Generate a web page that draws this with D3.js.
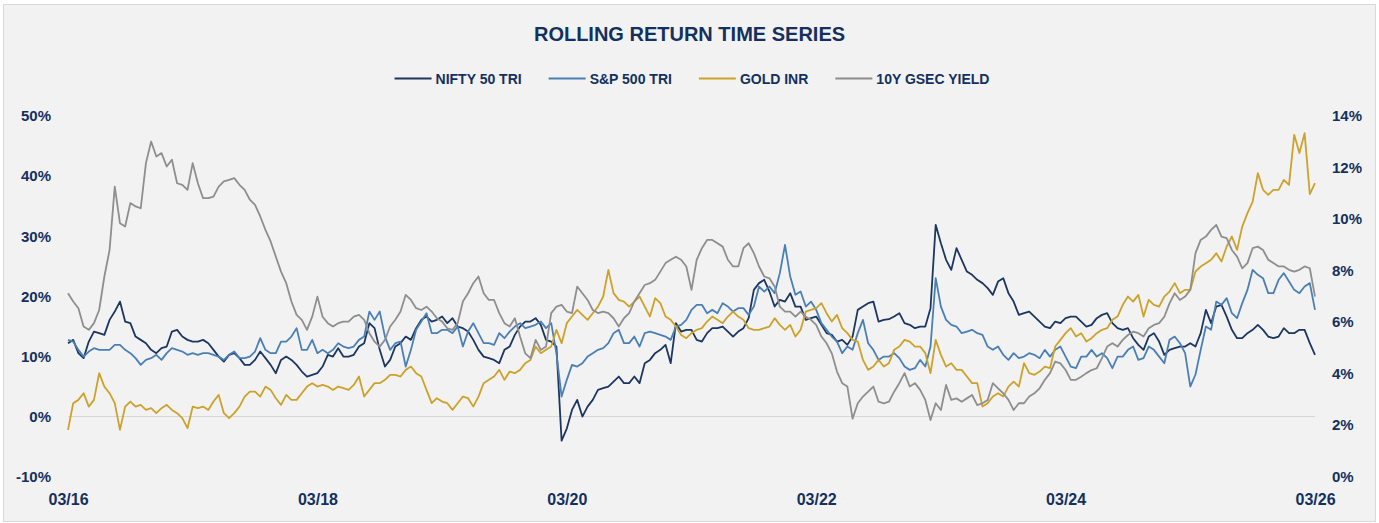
<!DOCTYPE html>
<html>
<head>
<meta charset="utf-8">
<script src="https://cdn.jsdelivr.net/npm/d3@7"></script>
<style>
	body { margin: 0; background: #ffffff; }
	svg text { font-family: "Liberation Sans", Arial, sans-serif; font-weight: bold; fill: #14305f; }
</style>
</head>
<body>
<svg id="chart" width="1379" height="523"></svg>
<script>
/* half-monthly samples, 03/16 .. 03/26 (241 points) */
const niftyTri = [
	12.21, 12.76, 10.55, 9.72, 12.48, 14.14, 13.88, 13.59, 16.09, 17.47, 19.13, 15.81, 15.54, 13.31, 12.76, 12.21, 11.10, 10.55, 11.38, 11.65, 14.14, 14.43, 13.31, 12.76, 12.48, 12.48, 12.76,
	12.21, 11.10, 9.98, 9.15, 10.27, 10.55, 9.72, 8.60, 8.60, 9.43, 10.82, 9.72, 8.60, 7.22, 9.43, 9.98, 9.43, 8.60, 7.49, 6.66, 6.94, 7.22, 8.32, 10.27, 9.98, 11.38, 9.98,
	9.98, 10.27, 11.65, 12.21, 15.54, 14.71, 11.10, 8.32, 9.43, 11.65, 12.21, 13.31, 12.76, 14.71, 16.09, 16.64, 15.81, 16.09, 16.64, 15.54, 16.37, 14.98, 14.71, 14.14, 12.76, 11.10, 9.98,
	9.72, 9.43, 8.88, 11.10, 11.65, 13.59, 14.98, 15.81, 15.81, 16.37, 15.26, 12.76, 12.48, 11.65, -4.00, -2.00, 1.11, 2.78, 0.00, 1.66, 2.78, 4.44, 4.73, 4.99, 5.82, 6.66, 5.56,
	5.56, 6.66, 5.56, 8.88, 9.43, 10.55, 11.10, 11.93, 8.88, 15.54, 14.14, 14.43, 14.43, 12.76, 12.48, 13.88, 14.71, 14.71, 14.98, 14.14, 13.31, 14.14, 14.71, 16.37, 21.08, 22.20, 22.75,
	20.80, 18.30, 19.42, 19.13, 20.53, 18.30, 18.30, 16.09, 16.37, 16.64, 15.26, 13.88, 13.59, 12.48, 12.76, 11.93, 13.31, 17.75, 18.30, 18.87, 19.13, 15.81, 16.09, 16.20, 16.64, 17.20, 15.54,
	15.26, 14.71, 14.98, 14.98, 18.04, 31.90, 28.85, 26.07, 24.41, 28.02, 26.07, 24.13, 23.58, 22.75, 22.20, 21.36, 20.25, 22.46, 23.03, 20.53, 19.13, 16.92, 17.20, 17.47, 16.64, 15.81, 14.98,
	14.71, 15.81, 15.54, 16.37, 16.64, 16.64, 15.81, 14.98, 15.26, 16.37, 16.92, 17.20, 15.54, 14.71, 14.43, 14.71, 13.04, 11.93, 11.10, 13.31, 13.88, 12.48, 10.27, 11.10, 11.38, 11.65, 11.65,
	12.21, 11.65, 13.88, 17.75, 15.54, 18.30, 18.59, 16.64, 14.43, 13.04, 13.04, 13.88, 14.43, 15.26, 14.43, 13.31, 13.04, 13.31, 14.71, 13.88, 13.88, 14.43, 14.43, 12.21, 10.27
];

const sp500Tri = [
	12.76, 12.48, 11.10, 9.98, 10.82, 11.38, 11.10, 11.10, 11.10, 11.93, 11.93, 11.10, 10.55, 9.72, 8.60, 9.43, 9.72, 10.27, 9.43, 10.55, 11.38, 11.10, 10.82, 10.27, 10.55, 10.27, 10.55,
	10.55, 10.27, 9.98, 9.43, 10.27, 10.82, 9.72, 9.72, 9.98, 10.82, 13.04, 11.10, 10.55, 10.55, 12.48, 12.48, 13.31, 14.71, 11.10, 11.10, 12.76, 10.55, 11.10, 10.55, 11.10, 12.21, 11.65,
	11.38, 11.65, 12.76, 13.31, 17.47, 16.09, 17.47, 13.31, 11.10, 12.21, 12.48, 8.32, 11.10, 14.43, 15.81, 17.20, 13.88, 13.88, 14.43, 14.43, 13.88, 14.98, 11.65, 14.14, 15.54, 13.88, 12.21,
	12.21, 11.93, 13.88, 13.04, 14.14, 14.98, 15.54, 14.71, 14.98, 15.26, 15.81, 14.71, 15.54, 10.55, 3.33, 6.11, 8.60, 8.32, 8.88, 9.98, 10.55, 11.10, 11.38, 12.21, 13.88, 14.43, 12.21,
	12.21, 13.31, 11.65, 13.88, 14.14, 13.88, 13.59, 13.31, 12.76, 14.98, 15.26, 16.09, 17.75, 18.59, 18.59, 17.20, 17.75, 17.20, 18.87, 18.30, 17.47, 18.04, 18.04, 16.92, 18.30, 21.63, 20.80,
	21.63, 20.53, 23.86, 28.57, 23.29, 20.25, 20.80, 18.30, 19.13, 17.75, 15.54, 14.43, 13.31, 12.48, 10.55, 11.65, 11.10, 13.88, 16.09, 12.21, 11.10, 9.43, 9.98, 9.98, 10.55, 9.72, 8.32,
	7.77, 8.05, 9.43, 8.32, 11.65, 23.03, 18.30, 16.09, 15.26, 14.98, 13.88, 14.14, 14.43, 13.88, 13.59, 11.65, 11.10, 11.65, 10.27, 9.43, 10.55, 9.72, 9.98, 10.55, 10.27, 9.72, 11.10,
	9.98, 11.10, 11.65, 9.98, 8.32, 8.05, 9.98, 9.98, 11.10, 9.98, 10.55, 9.72, 8.05, 9.98, 9.98, 11.10, 11.65, 9.43, 9.72, 11.65, 11.10, 9.98, 8.88, 12.76, 13.31, 12.21, 10.55,
	5.00, 7.00, 11.10, 14.98, 14.43, 19.13, 18.59, 19.70, 17.20, 16.37, 18.87, 21.08, 24.41, 23.58, 23.03, 20.53, 20.53, 22.75, 23.86, 22.46, 21.08, 20.53, 21.63, 22.20, 17.75
];

const goldInr = [
	-2.21, 2.23, 2.78, 3.89, 1.66, 2.78, 7.22, 4.99, 3.89, 2.23, -2.21, 1.66, 2.50, 1.66, 1.95, 1.11, 1.40, 0.57, 1.40, 1.95, 1.11, 0.57, -0.27, -1.93, 1.66, 1.40, 1.66,
	1.11, 2.50, 3.61, 0.57, -0.27, 0.57, 1.66, 3.33, 4.16, 4.16, 3.33, 4.99, 4.44, 3.06, 1.95, 3.61, 2.78, 2.78, 3.89, 4.99, 5.56, 4.99, 5.27, 4.99, 4.44, 4.99, 4.73,
	4.44, 5.27, 6.66, 3.33, 4.44, 5.56, 5.56, 6.11, 6.94, 6.94, 6.66, 7.77, 8.32, 7.22, 6.66, 4.44, 2.23, 3.06, 2.50, 2.23, 1.11, 2.23, 3.33, 3.06, 1.66, 3.33, 5.56,
	6.11, 6.66, 7.77, 6.11, 7.49, 7.22, 7.77, 8.88, 9.43, 11.65, 10.55, 11.10, 11.65, 14.43, 12.21, 15.54, 16.64, 17.75, 16.92, 16.09, 17.20, 18.30, 19.97, 24.41, 20.53, 19.42, 19.13,
	18.30, 19.13, 19.97, 18.30, 16.64, 19.70, 18.87, 16.64, 16.09, 14.98, 13.59, 13.04, 13.88, 14.43, 14.71, 15.81, 16.64, 16.09, 15.54, 16.64, 17.47, 16.64, 16.09, 14.71, 14.43, 14.43, 14.71,
	14.98, 16.37, 15.26, 14.43, 15.26, 13.31, 14.43, 17.47, 17.75, 18.04, 18.87, 17.20, 15.81, 16.92, 14.71, 13.88, 12.76, 12.48, 9.43, 7.77, 8.32, 9.43, 8.32, 8.88, 11.10, 11.65, 12.76,
	12.48, 11.65, 11.65, 10.55, 7.22, 12.76, 10.27, 8.32, 8.88, 7.77, 7.77, 6.66, 5.56, 5.56, 1.66, 2.23, 3.33, 3.89, 3.33, 4.99, 5.82, 4.99, 8.88, 7.22, 6.94, 7.49, 8.32,
	8.05, 11.65, 12.76, 13.88, 14.71, 13.31, 13.88, 12.48, 13.04, 13.88, 14.43, 14.71, 16.09, 16.64, 18.59, 19.97, 19.13, 20.25, 16.64, 19.42, 18.59, 18.30, 19.97, 20.80, 22.20, 20.53, 21.08,
	21.08, 24.13, 24.96, 25.52, 26.07, 27.18, 25.80, 28.29, 29.95, 27.73, 31.61, 33.84, 35.77, 40.50, 37.72, 36.89, 37.72, 37.72, 39.38, 38.55, 46.87, 43.83, 47.15, 37.00, 38.84
];

/* plotted against the right-hand axis */
const gsecYield = [
	7.12, 6.80, 6.54, 5.83, 5.70, 5.96, 6.47, 7.77, 8.80, 11.26, 9.84, 9.71, 10.62, 10.49, 10.42, 12.17, 13.01, 12.43, 12.56, 12.04, 12.30, 11.39, 11.33, 11.13, 12.17, 11.39, 10.81,
	10.81, 10.87, 11.26, 11.46, 11.52, 11.59, 11.33, 11.13, 10.75, 10.55, 10.10, 9.58, 9.13, 8.54, 7.96, 7.51, 6.80, 6.28, 6.09, 5.70, 6.21, 6.99, 6.21, 5.96, 5.83, 5.96, 6.02,
	6.02, 6.21, 6.28, 6.09, 5.57, 5.24, 5.05, 5.31, 5.83, 6.09, 6.41, 7.06, 6.86, 6.54, 6.47, 6.60, 6.41, 6.15, 6.02, 5.76, 5.70, 5.96, 6.80, 7.12, 7.51, 7.77, 7.12,
	6.86, 6.86, 6.35, 5.96, 5.83, 6.15, 5.44, 4.79, 4.60, 5.31, 4.92, 5.05, 6.35, 6.60, 6.67, 6.41, 6.35, 7.38, 7.12, 6.86, 6.47, 6.35, 6.41, 6.35, 6.15, 5.83, 6.15,
	6.35, 6.80, 7.12, 7.44, 7.51, 7.64, 7.96, 8.29, 8.42, 8.54, 8.42, 8.16, 7.25, 8.42, 8.87, 9.19, 9.19, 9.06, 8.93, 8.42, 8.16, 8.16, 8.87, 9.06, 8.68, 8.16, 7.77,
	7.70, 7.38, 6.60, 6.41, 6.41, 6.21, 6.41, 6.21, 6.09, 5.89, 5.44, 5.18, 4.79, 4.08, 3.63, 3.50, 2.25, 2.85, 3.11, 3.30, 3.50, 2.91, 2.85, 2.91, 3.30, 3.63, 4.02,
	3.50, 3.63, 3.37, 2.98, 2.20, 2.85, 2.59, 3.56, 2.98, 3.04, 2.91, 3.04, 3.17, 2.78, 2.85, 2.98, 3.63, 3.43, 3.24, 2.98, 2.59, 2.85, 2.85, 3.11, 3.24, 3.43, 3.76,
	4.02, 4.47, 4.40, 4.14, 3.76, 3.76, 3.88, 4.02, 4.14, 4.21, 4.60, 5.05, 5.18, 5.05, 5.31, 5.50, 5.63, 5.57, 5.44, 5.76, 5.89, 5.96, 6.21, 6.73, 7.12, 6.86, 6.99,
	7.25, 8.68, 9.19, 9.32, 9.58, 9.77, 9.32, 9.26, 8.80, 8.54, 8.09, 8.29, 8.87, 8.93, 8.80, 8.42, 8.29, 8.16, 8.16, 8.03, 7.96, 8.03, 8.16, 8.09, 6.99
];

const xTickIndex = [0, 48, 96, 144, 192, 240];
const xTickLabels = ["03/16", "03/18", "03/20", "03/22", "03/24", "03/26"];
const leftTicks = [-10, 0, 10, 20, 30, 40, 50];
const rightTicks = [0, 2, 4, 6, 8, 10, 12, 14];
const seriesNames = ["NIFTY 50 TRI", "S&P 500 TRI", "GOLD INR", "10Y GSEC YIELD"];
const seriesColors = ["#1c365f", "#4a7fb6", "#cca22b", "#8e8e8e"];

const svg = d3.select("#chart");

// chart background + border
svg.append("rect")
	.attr("x", 3.5).attr("y", 4.5)
	.attr("width", 1372).attr("height", 517)
	.attr("fill", "#f2f2f2")
	.attr("stroke", "#d9d9d9")
	.attr("stroke-width", 1);

const x = d3.scaleLinear().domain([0, 240]).range([68, 1315]);
const yLeft = d3.scaleLinear().domain([-10, 50]).range([476.7, 116]);
const yRight = d3.scaleLinear().domain([0, 14]).range([476.7, 116]);

// title
svg.append("text")
	.attr("x", 689.5).attr("y", 40.5)
	.attr("text-anchor", "middle")
	.attr("font-size", "20px")
	.text("ROLLING RETURN TIME SERIES");

// legend
const legend = svg.append("g");
let lx = 0;
seriesNames.forEach((name, i) => {
	const item = legend.append("g").attr("transform", `translate(${lx},0)`);
	item.append("line")
		.attr("x1", 0).attr("x2", 37)
		.attr("y1", 78.5).attr("y2", 78.5)
		.attr("stroke", seriesColors[i])
		.attr("stroke-width", 2);
	const t = item.append("text")
		.attr("x", 41).attr("y", 83.5)
		.attr("font-size", "14px")
		.text(name);
	lx += 41 + t.node().getComputedTextLength() + 27;
});
const legendWidth = lx - 27;
legend.attr("transform", `translate(${692 - legendWidth / 2},0)`);

// zero line
svg.append("line")
	.attr("x1", x(0)).attr("x2", x(240))
	.attr("y1", yLeft(0)).attr("y2", yLeft(0))
	.attr("stroke", "#d6d6d6")
	.attr("stroke-width", 1);

// axes
const leftAxis = svg.append("g")
	.attr("transform", "translate(58,0)")
	.call(d3.axisLeft(yLeft).tickValues(leftTicks).tickSize(0).tickPadding(7).tickFormat(d => d + "%"));
const rightAxis = svg.append("g")
	.attr("transform", "translate(1325,0)")
	.call(d3.axisRight(yRight).tickValues(rightTicks).tickSize(0).tickPadding(7).tickFormat(d => d + "%"));
const bottomAxis = svg.append("g")
	.attr("transform", "translate(0,476.7)")
	.call(d3.axisBottom(x).tickValues(xTickIndex).tickSize(0).tickPadding(17).tickFormat((d, i) => xTickLabels[i]));

[leftAxis, rightAxis, bottomAxis].forEach(g => {
	g.select(".domain").remove();
	g.selectAll("text")
		.attr("fill", "#14305f")
		.style("font-family", "\"Liberation Sans\", Arial, sans-serif")
		.style("font-weight", "bold");
});
leftAxis.selectAll("text").style("font-size", "15px");
rightAxis.selectAll("text").style("font-size", "15px");
bottomAxis.selectAll("text").style("font-size", "16px");

// series lines
const lineLeft = d3.line().x((d, i) => x(i)).y(d => yLeft(d));
const lineRight = d3.line().x((d, i) => x(i)).y(d => yRight(d));

const seriesData = [niftyTri, sp500Tri, goldInr, gsecYield];
seriesData.forEach((values, i) => {
	svg.append("path")
		.datum(values)
		.attr("fill", "none")
		.attr("stroke", seriesColors[i])
		.attr("stroke-width", 1.8)
		.attr("stroke-linejoin", "round")
		.attr("d", i === 3 ? lineRight : lineLeft);
});
</script>
</body>
</html>
